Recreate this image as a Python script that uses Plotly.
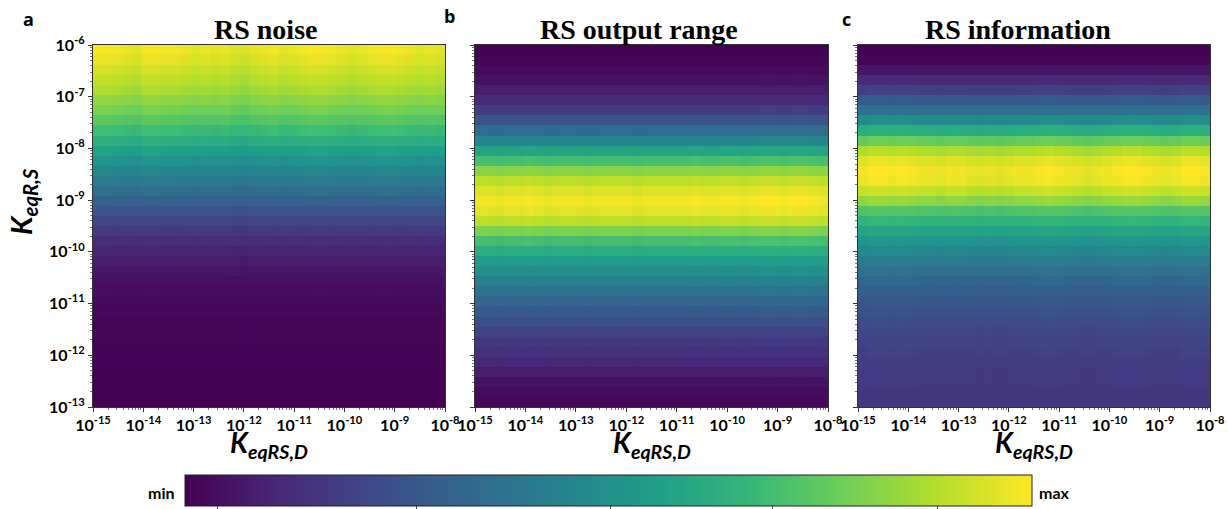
import numpy as np
import plotly.graph_objects as go

W, H = 1228, 509

# Grid of equilibrium constants (log-spaced cell centres)
N = 36
STEP = 7 / N
kd_values = [10 ** (-15 + (j + 0.5) * STEP) for j in range(N)]   # K_eqRS,D
kr_values = [10 ** (-13 + (i + 0.5) * STEP) for i in range(N)]   # K_eqR,S

# Normalised score per K_eqR,S row, listed from the top row (1e-6) downwards
noise_rows = [0.97, 0.95, 0.92, 0.89, 0.86, 0.82, 0.78, 0.73, 0.68, 0.62,
              0.56, 0.51, 0.46, 0.41, 0.36, 0.31, 0.26, 0.21, 0.17, 0.13,
              0.10, 0.08, 0.06, 0.045, 0.035, 0.025, 0.02, 0.015, 0.01, 0.01,
              0.005, 0.005, 0.0, 0.0, 0.0, 0.0]
range_rows = [0.0, 0.01, 0.03, 0.05, 0.08, 0.12, 0.18, 0.26, 0.35, 0.46,
              0.58, 0.70, 0.82, 0.90, 0.95, 0.98, 0.96, 0.90, 0.80, 0.70,
              0.62, 0.55, 0.50, 0.44, 0.38, 0.33, 0.28, 0.24, 0.20, 0.17,
              0.14, 0.11, 0.08, 0.05, 0.03, 0.02]
info_rows = [0.0, 0.01, 0.06, 0.12, 0.19, 0.28, 0.37, 0.48, 0.62, 0.76,
             0.88, 0.95, 0.98, 0.97, 0.91, 0.83, 0.72, 0.65, 0.58, 0.52,
             0.47, 0.42, 0.37, 0.33, 0.30, 0.27, 0.25, 0.23, 0.21, 0.20,
             0.19, 0.18, 0.17, 0.17, 0.16, 0.16]

# Relative variation along K_eqRS,D (one entry per column)
noise_cols = [0.02, 0.02, 0.01, 0.0, -0.01, 0.02, 0.02, 0.01, 0.01, 0.0,
              -0.01, 0.0, -0.01, 0.0, -0.02, -0.03, -0.01, 0.0, 0.01, -0.01,
              0.0, 0.01, 0.02, 0.02, 0.01, 0.0, -0.01, 0.0, 0.01, 0.02,
              0.02, 0.01, 0.0, -0.01, 0.0, -0.01]
range_cols = [0.0, 0.0, -0.01, 0.0, 0.0, 0.01, 0.0, -0.01, 0.0, 0.0,
              0.0, -0.01, 0.0, 0.0, 0.0, 0.0, -0.01, 0.0, 0.0, 0.0,
              0.0, 0.0, 0.01, 0.0, 0.0, 0.01, 0.01, 0.0, 0.01, 0.02,
              0.02, 0.01, 0.02, 0.02, 0.01, 0.0]
info_cols = [0.0, 0.02, 0.02, 0.01, 0.02, 0.01, 0.0, 0.0, -0.01, 0.0,
             0.0, -0.01, -0.02, -0.01, -0.02, -0.01, 0.0, 0.0, 0.01, 0.02,
             0.01, 0.0, -0.01, -0.02, -0.01, 0.0, 0.01, 0.02, 0.02, 0.01,
             0.0, -0.01, 0.0, 0.02, 0.02, 0.01]

titles = ["RS noise", "RS output range", "RS information"]
letters = ["a", "b", "c"]

x_ticks = [10.0 ** e for e in range(-15, -7)]
x_text = [f"10<sup>{e}</sup>" for e in range(-15, -7)]
y_ticks = [10.0 ** e for e in range(-13, -5)]
y_text = [f"10<sup>{e}</sup>" for e in range(-13, -5)]

cbar_ticks = [0.038, 0.273, 0.502, 0.694, 0.889]


def grid(rows, cols):
    r = np.array(rows[::-1])[:, None]
    c = 1 + np.array(cols)[None, :]
    return r * c


panels = [(noise_rows, noise_cols), (range_rows, range_cols), (info_rows, info_cols)]

# panel frames in pixels: left, right (top/bottom shared)
px_x = [(93, 445), (475, 828), (858, 1210)]
px_top, px_bot = 45, 407
title_cx = [265, 639, 1018]

fig = go.Figure()

tick_font = dict(family="Lato", size=16, color="black", weight=700)

for k, (rows, cols) in enumerate(panels):
    suffix = "" if k == 0 else str(k + 1)
    trace = go.Heatmap(
        x=kd_values, y=kr_values, z=grid(rows, cols),
        colorscale="Viridis", zmin=0, zmax=1,
        xaxis="x" + suffix, yaxis="y" + suffix,
        showscale=(k == 0),
    )
    if k == 0:
        trace.colorbar = dict(
            orientation="h", x=(185 + 1032) / 2 / W, xanchor="center",
            y=1 - 511 / H, yanchor="bottom",
            len=(1032 - 185) / W, lenmode="fraction",
            thickness=31, thicknessmode="pixels",
            outlinewidth=1, outlinecolor="#222",
            tickmode="array", tickvals=cbar_ticks,
            ticks="outside", ticklen=4, tickcolor="#444",
            showticklabels=False, xpad=0, ypad=0,
        )
    fig.add_trace(trace)

    l, r = px_x[k]
    common = dict(
        type="log", showline=True, linecolor="#333", linewidth=1, mirror=True,
        ticks="outside", ticklen=4, tickcolor="#333", showgrid=False, zeroline=False,
        tickfont=tick_font, automargin=False,
        minor=dict(ticks="outside", ticklen=2, tickcolor="#777", dtick="D1", showgrid=False),
    )
    fig.layout["xaxis" + suffix] = dict(
        common, domain=[l / W, r / W], range=[-15, -8],
        tickmode="array", tickvals=x_ticks, ticktext=x_text,
        anchor="y" + suffix,
    )
    fig.layout["yaxis" + suffix] = dict(
        common, domain=[1 - px_bot / H, 1 - px_top / H], range=[-13, -6],
        tickmode="array", tickvals=y_ticks, ticktext=y_text,
        showticklabels=(k == 0), anchor="x" + suffix,
    )

    fig.add_annotation(
        text=f"<b>{titles[k]}</b>", x=title_cx[k] / W, y=1 - 30 / H,
        xref="paper", yref="paper",
        xanchor="center", yanchor="middle", showarrow=False,
        font=dict(family="Liberation Serif", size=28, color="black"),
    )
    fig.add_annotation(
        text="<b><i>K<sub>eqRS,D</sub></i></b>", x=(l + r) / 2 / W, y=1 - 444 / H,
        xref="paper", yref="paper", xanchor="center", yanchor="middle",
        showarrow=False, font=dict(family="Lato", size=28, color="black"),
    )

for txt, (lx, ly) in zip(letters, [(28, 19), (449, 16), (846, 19)]):
    fig.add_annotation(
        text=f"<b>{txt}</b>", x=lx / W, y=1 - ly / H, xref="paper", yref="paper",
        xanchor="center", yanchor="middle", showarrow=False,
        font=dict(family="Open Sans", size=18, color="black"),
    )

fig.add_annotation(
    text="<b><i>K<sub>eqR,S</sub></i></b>", x=22 / W, y=1 - 202 / H,
    xref="paper", yref="paper", xanchor="center", yanchor="middle",
    textangle=-90, showarrow=False, font=dict(family="Lato", size=29, color="black"),
)
fig.add_annotation(
    text="<b>min</b>", x=177 / W, y=1 - 492 / H, xref="paper", yref="paper",
    xanchor="right", yanchor="middle", showarrow=False,
    font=dict(family="Lato", size=16, color="black"),
)
fig.add_annotation(
    text="<b>max</b>", x=1037 / W, y=1 - 492 / H, xref="paper", yref="paper",
    xanchor="left", yanchor="middle", showarrow=False,
    font=dict(family="Lato", size=16, color="black"),
)

fig.update_layout(
    width=W, height=H, margin=dict(l=0, r=0, t=0, b=0, autoexpand=False),
    paper_bgcolor="white", plot_bgcolor="white", showlegend=False,
)

fig.write_html("out.html")
